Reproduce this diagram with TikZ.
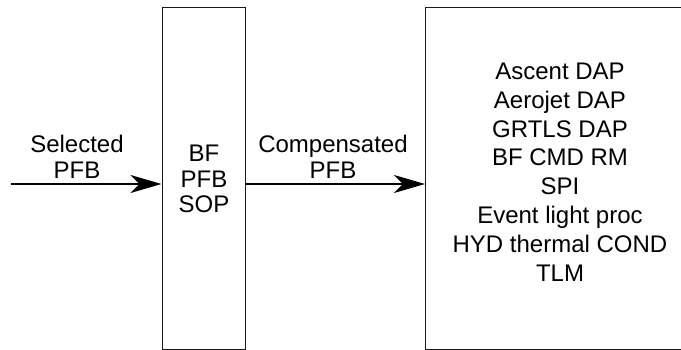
\documentclass[tikz,border=0pt]{standalone}
\usepackage{fontspec}
\setmainfont{Liberation Sans}
\usetikzlibrary{arrows.meta}
\begin{document}
\begin{tikzpicture}[x=1pt,y=-1pt,
  blk/.style={draw=black!90, line width=1.2pt, inner sep=0pt},
  lbl/.style={inner sep=0pt, align=center, font=\fontsize{24}{25.5}\selectfont},
  lst/.style={inner sep=0pt, align=center, font=\fontsize{24}{28.8}\selectfont},
  flow/.style={line width=1.4pt, -{Stealth[length=31pt,width=18pt,inset=9pt]}}]
\useasboundingbox (0,0) rectangle (681,350);
\clip (0,0) rectangle (681,350);
\node[blk, minimum width=83pt, minimum height=341.8pt, anchor=north west] (mid) at (161.5,7) {};
\node[lbl] (midtxt) at (204,179) {BF\\PFB\\SOP};
\node[blk, minimum width=280pt, minimum height=341.8pt, anchor=north west] (box) at (425,7) {};
\node[lst] (list) at (560,172) {Ascent DAP\\Aerojet DAP\\GRTLS DAP\\BF CMD RM\\SPI\\Event light proc\\HYD thermal COND\\TLM};
\coordinate (in) at (11,184);
\draw[flow] (in) -- (in -| mid.west);
\draw[flow] (in -| mid.east) -- (in -| box.west);
\node[lbl] (sel) at (77,157) {Selected\\PFB};
\node[lbl] (comp) at (333,157) {Compensated\\PFB};
\end{tikzpicture}
\end{document}
